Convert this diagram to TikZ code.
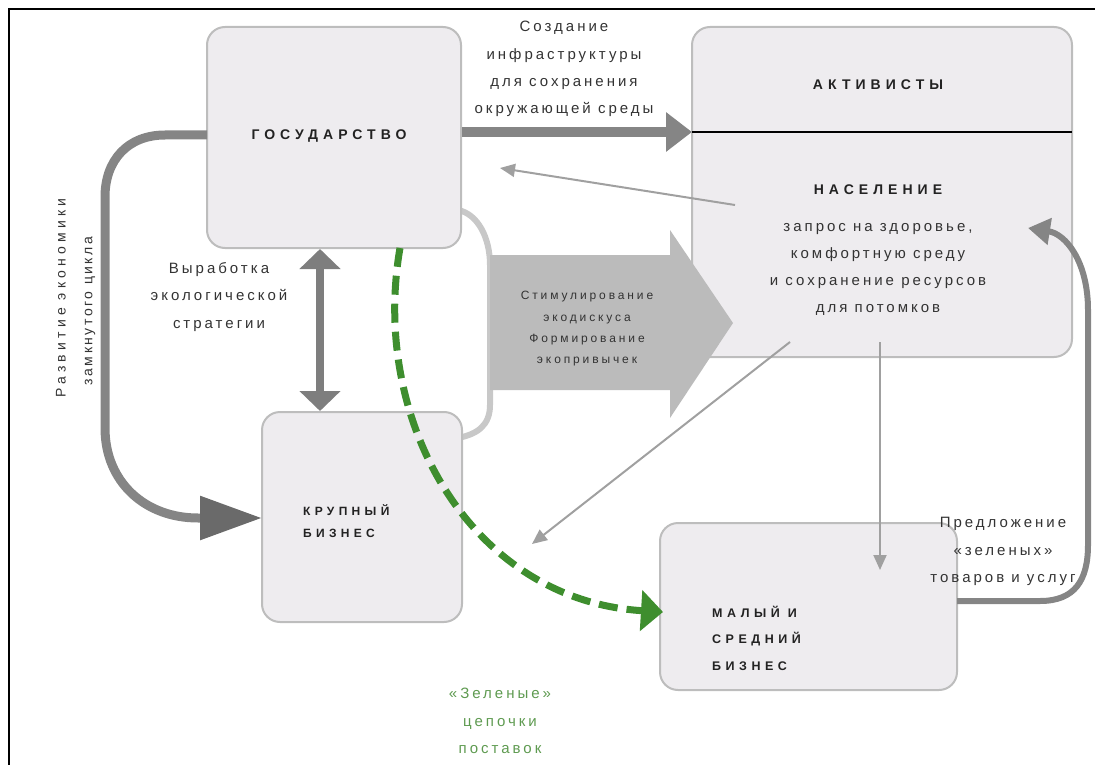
\documentclass[tikz,border=0pt]{standalone}
\usepackage{fontspec}
\setmainfont{Liberation Sans}
\newfontfamily\bodyf[LetterSpace=20]{Liberation Sans}
\newfontfamily\bodys[LetterSpace=24]{Liberation Sans}
\newfontfamily\bodyw[LetterSpace=30]{Liberation Sans}
\newfontfamily\bodyn[LetterSpace=18]{Liberation Sans}
\newfontfamily\titf[LetterSpace=36]{Liberation Sans}
\usetikzlibrary{arrows.meta}
\definecolor{boxfill}{HTML}{EEECEF}
\definecolor{boxline}{HTML}{BDBDBD}
\definecolor{darkarr}{HTML}{858585}
\definecolor{headarr}{HTML}{6A6A6A}
\definecolor{midarr}{HTML}{A0A0A0}
\definecolor{lightarr}{HTML}{C8C8C8}
\definecolor{blockarr}{HTML}{BBBBBB}
\definecolor{eco}{HTML}{3E8E2E}
\definecolor{ecotext}{HTML}{5E9A50}
\definecolor{txt}{HTML}{333333}
\definecolor{ttl}{HTML}{222222}
\begin{document}
\begin{tikzpicture}[x=1pt,y=-1pt,
  box/.style={draw=boxline, line width=2pt, fill=boxfill, rounded corners=18pt, anchor=center, inner sep=0pt},
  title/.style={text=ttl, font=\titf\bfseries\fontsize{14}{27}\selectfont, inner sep=0pt},
  body/.style={text=txt, font=\bodyf\fontsize{15}{27.3}\selectfont, align=center, inner sep=0pt},
  small/.style={text=txt, font=\bodys\fontsize{12}{21.3}\selectfont, align=center, inner sep=0pt},
  thin/.style={midarr, line width=2pt, -{Triangle[length=15pt,width=13pt]}},
]
\useasboundingbox (0,0) rectangle (1095,765);
% frame (top and left edges)
\coordinate (fo) at (9,9);
\coordinate (fr) at (1095,9);
\coordinate (fb) at (9,765);
\draw[black, line width=2pt] (fr) -- (fo) -- (fb);

% light bracket behind boxes
\coordinate (br1) at (458,210);
\coordinate (br2) at (458,438);
\draw[lightarr, line width=6pt] (br1) .. controls (478,214) and (490,238) .. (490,265) -- (490,405) .. controls (490,425) and (478,434) .. (br2);

% boxes
\node[box, minimum width=254pt, minimum height=221pt] (gos) at (334,137.5) {};
\node[box, minimum width=380pt, minimum height=330pt] (act) at (882,192) {};
\node[box, minimum width=200pt, minimum height=210pt] (krup) at (362,517) {};
\node[box, minimum width=297pt, minimum height=167pt] (mal) at (808.5,606.5) {};

% divider in act box
\coordinate (dl) at (692,132);
\coordinate (dr) at (1072,132);
\draw[black, line width=1.2pt] (dl) -- (dr);

% texts in boxes
\node[title] (tgos) at (329,136) {ГОСУДАРСТВО};
\node[title] (tact) at (878,85) {АКТИВИСТЫ};
\node[title] (tnas) at (878,190) {НАСЕЛЕНИЕ};
\node[body] (tzap) at (878,269.5) {запрос на здоровье,\\комфортную среду\\и сохранение ресурсов\\для потомков};
\node[title, align=left, anchor=west, font=\titf\bfseries\fontsize{12}{22}\selectfont] (tkrup) at (303,521) {КРУПНЫЙ\\БИЗНЕС};
\node[title, align=left, anchor=west, font=\titf\bfseries\fontsize{12.5}{26.5}\selectfont] (tmal) at (712,638) {МАЛЫЙ И\\СРЕДНИЙ\\БИЗНЕС};

% block arrow
\fill[blockarr] (490,255) -- (670,255) -- (670,230) -- (733,323) -- (670,418) -- (670,390) -- (490,390) -- cycle;
\node[small] (tstim) at (587,329) {Стимулирование\\экодискуса\\Формирование\\экопривычек};

% big arrow gos -> act
\draw[darkarr, line width=10pt, -{Triangle[length=26pt,width=38pt]}] (gos.east |- dl) -- (dl);
\node[body] (tsoz) at (564,69) {Создание\\инфраструктуры\\для сохранения\\окружающей среды};

% double arrow gos <-> krup
\coordinate (dx) at (320,0);
\draw[darkarr!95!black, line width=8pt, {Triangle[length=20pt,width=40pt]}-{Triangle[length=20pt,width=40pt]}] (gos.south -| dx) -- (krup.north -| dx);
\node[body] (tvyr) at (219,297) {Выработка\\экологической\\стратегии};

% left curve gos -> krup
\coordinate (lc1) at (207,135);
\coordinate (lc2) at (262,518);
\draw[darkarr, line width=9pt, -{Triangle[length=62pt,width=42pt,color=headarr]}] (lc1) -- (165,135) .. controls (128,135) and (105,160) .. (105,197) -- (105,428) .. controls (105,482) and (145,518) .. (198,518) -- (lc2);
\node[body, rotate=90, font=\bodyw\fontsize{14}{20}\selectfont] (trazv) at (61,298) {Развитие экономики};
\node[body, rotate=90, font=\bodyn\fontsize{14}{20}\selectfont] (tzamk) at (90,311) {замкнутого цикла};

% thin arrows
\coordinate (t1s) at (735,205);
\coordinate (t1e) at (500,168);
\draw[thin] (t1s) -- (t1e);
\coordinate (t2s) at (790,342);
\coordinate (t2e) at (532,544);
\draw[thin] (t2s) -- (t2e);
\coordinate (t3s) at (880,342);
\coordinate (t3e) at (880,570);
\draw[thin] (t3s) -- (t3e);

% right curve mal -> act
\coordinate (rc1) at (957,601);
\coordinate (rc2) at (1028,228);
\draw[darkarr, line width=6pt, -{Triangle[length=22pt,width=26pt]}] (rc1) -- (1040,601) .. controls (1075,601) and (1088,580) .. (1088,545) -- (1088,310) .. controls (1088,262) and (1066,234) .. (rc2);
\node[body] (tpred) at (1003,551.5) {Предложение\\«зеленых»\\товаров и услуг};

% green dashed
\coordinate (g1) at (400,248);
\coordinate (g2) at (663,612);
\draw[eco, line width=7pt, dash pattern=on 19pt off 9pt, -{Triangle[length=22pt,width=40pt]}] (g1) .. controls (370,420) and (470,600) .. (g2);
\node[body, text=ecotext] (tgreen) at (500,721) {«Зеленые»\\цепочки\\поставок};
\end{tikzpicture}
\end{document}
